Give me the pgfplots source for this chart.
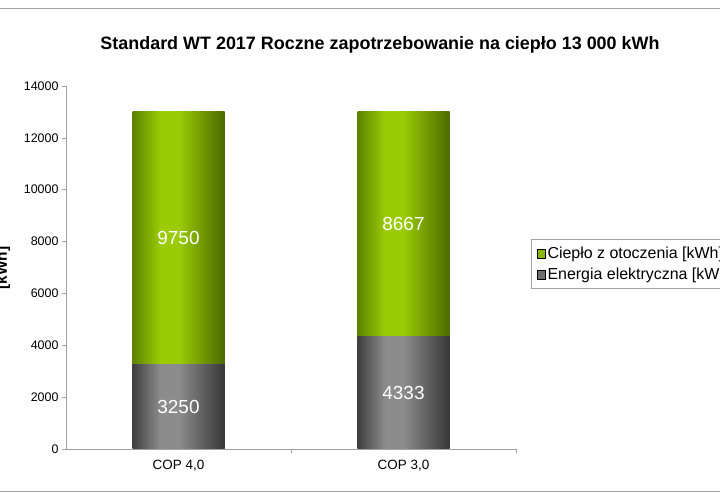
\documentclass[border=0pt]{standalone}
\usepackage{fontspec}
\setmainfont{Liberation Sans}
\usepackage{pgfplots}
\pgfplotsset{compat=1.18}

\definecolor{greenEdgeL}{HTML}{5E8200}
\definecolor{greenMid}{HTML}{9ACB05}
\definecolor{greenEdgeR}{HTML}{4C6A00}
\definecolor{grayEdgeL}{HTML}{3E3E3E}
\definecolor{grayMid}{HTML}{8C8C8C}
\definecolor{grayEdgeR}{HTML}{383838}
\definecolor{greenLeg}{HTML}{8AB800}
\definecolor{grayLeg}{HTML}{6E6E6E}
\definecolor{frameGray}{HTML}{A0A0A0}

% horizontal "cylinder" shadings for the bars
\pgfdeclarehorizontalshading{greenbar}{100bp}{color(0bp)=(greenEdgeL); color(25bp)=(greenEdgeL);
  color(40bp)=(greenMid); color(50bp)=(greenMid); color(75bp)=(greenEdgeR); color(100bp)=(greenEdgeR)}
\pgfdeclarehorizontalshading{graybar}{100bp}{color(0bp)=(grayEdgeL); color(25bp)=(grayEdgeL);
  color(40bp)=(grayMid); color(50bp)=(grayMid); color(75bp)=(grayEdgeR); color(100bp)=(grayEdgeR)}

\pgfplotsset{
  greenbar/.style={ybar, bar width=92bp, bar shift=0pt, draw=none, shade, shading=greenbar, forget plot},
  graybar/.style={ybar, bar width=92bp, bar shift=0pt, draw=none, shade, shading=graybar, forget plot},
}

\begin{document}
\begin{tikzpicture}
\useasboundingbox (0,0) rectangle (720bp,500bp);
\clip (0,0) rectangle (720bp,500bp);
\draw[frameGray, line width=0.8bp] (0,492bp) -- (720bp,492bp);
\draw[frameGray, line width=0.8bp] (0,9bp) -- (720bp,9bp);
\node[font=\bfseries\fontsize{18}{21}\selectfont] at (380bp,455bp)
  {Standard WT 2017 Roczne zapotrzebowanie na ciepło 13 000 kWh};
\node[rotate=90, font=\bfseries\fontsize{15.5}{17}\selectfont] at (3bp,232bp) {[kWh]};

\begin{axis}[
  at={(66bp,51bp)}, anchor=south west,
  scale only axis, width=450bp, height=363bp,
  xmin=0, xmax=2, ymin=0, ymax=14000,
  axis x line*=bottom, axis y line*=left,
  axis line style={draw=frameGray, line width=0.7bp, -},
  xtick={0.5,1.5}, xticklabels={{COP 4,0},{COP 3,0}},
  major x tick style={draw=none},
  extra x ticks={1,2}, extra x tick labels={},
  extra x tick style={major x tick style={draw=frameGray, line width=0.7bp}},
  ytick={0,2000,...,14000},
  scaled y ticks=false,
  y tick style={draw=frameGray, line width=0.7bp},
  tick align=outside, major tick length=4bp,
  yticklabel style={font=\fontsize{12.5}{14}\selectfont, text=black},
  xticklabel style={font=\fontsize{13.5}{15}\selectfont, text=black, yshift=-4bp},
  /pgf/number format/1000 sep={},
  /pgf/number format/assume math mode=true,
  legend style={at={(1.0333,0.5785)}, anchor=north west, draw=frameGray,
    fill=white, font=\fontsize{16}{18}\selectfont, inner sep=5.5bp, row sep=4bp,
    /tikz/every even column/.append style={column sep=2bp}},
  legend cell align=left,
  legend image code/.code={\fill[#1] (0bp,-4.5bp) rectangle (8.5bp,4.5bp);},
]
% one plot per bar so that each bar gets its own shading
% totals 13000 = 9750 + 3250 and 8667 + 4333; grey overlaid at the bottom
\addplot[greenbar] coordinates {(0.5,13000)};
\addplot[greenbar] coordinates {(1.5,13000)};
\addplot[graybar] coordinates {(0.5,3250)};
\addplot[graybar] coordinates {(1.5,4333)};
\addplot[draw=none, mark=none, forget plot, nodes near coords, point meta=explicit symbolic,
  nodes near coords style={anchor=center, text=white, font=\fontsize{19}{21}\selectfont}]
  table[meta=label] {
x   y       label
0.5 8125    9750
1.5 8666.5  8667
0.5 1625    3250
1.5 2166.5  4333
};
\addlegendimage{fill=greenLeg}
\addlegendentry{Ciepło z otoczenia [kWh]}
\addlegendimage{fill=grayLeg}
\addlegendentry{Energia elektryczna [kWh]}
\end{axis}
\end{tikzpicture}
\end{document}
